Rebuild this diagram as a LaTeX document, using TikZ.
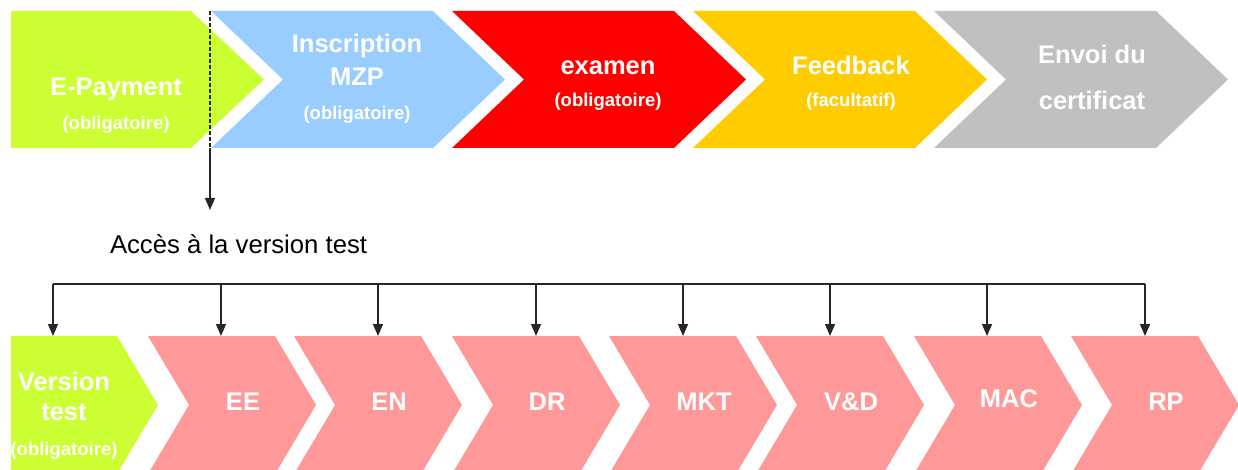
\documentclass[tikz,border=0pt]{standalone}
\usepackage{fontspec}
\setmainfont{Liberation Sans}
\usetikzlibrary{arrows.meta}

\definecolor{paygreen}{HTML}{CCFF33}
\definecolor{mzpblue}{HTML}{99CCFF}
\definecolor{examred}{HTML}{FF0000}
\definecolor{feedyellow}{HTML}{FFCC00}
\definecolor{certgrey}{HTML}{C0C0C0}
\definecolor{modpink}{HTML}{FF9999}

\begin{document}
\begin{tikzpicture}[
        x=1pt, y=-1pt,
        every node/.style = {inner sep=0pt,outer sep=0pt,anchor=base},
        title/.style = {text=white,font=\bfseries\fontsize{25.5}{30}\selectfont},
        note/.style = {text=white,font=\bfseries\fontsize{18.5}{22}\selectfont},
        wire/.style = {color=black!85,line width=1.3pt},
        link/.style = {wire,-{Triangle[width=10pt,length=12pt]}},
        ]
        \useasboundingbox (0,0) rectangle (1238,470);
        % top row
        \fill[paygreen] (11,11) -- (191,11) -- (264,79.5) -- (191,148) -- (11,148) -- cycle;
        \foreach \l/\c in {211/mzpblue,452/examred,693/feedyellow,934/certgrey}
            \fill[\c] (\l,11) -- ++(222,0) -- ++(72,68.5) -- ++(-72,68.5) -- ++(-222,0) -- ++(72,-68.5) -- cycle;
        \node[title] (pay-title) at (116,96) {E-Payment};
        \node[note] (pay-note) at (116,130) {(obligatoire)};
        \node[title] (mzp-title1) at (357,53) {Inscription};
        \node[title] (mzp-title2) at (357,86) {MZP};
        \node[note] (mzp-note) at (357,120) {(obligatoire)};
        \node[title] (exam-title) at (608,75) {examen};
        \node[note] (exam-note) at (608,107) {(obligatoire)};
        \node[title] (feed-title) at (851,75) {Feedback};
        \node[note] (feed-note) at (851,107) {(facultatif)};
        \node[title] (cert-title1) at (1092,64) {Envoi du};
        \node[title] (cert-title2) at (1092,110) {certificat};

        % test access
        \coordinate (dash-top) at (210,11);
        \coordinate (dash-end) at (210,148);
        \coordinate (access-tip) at (210,210);
        \draw[wire,dash pattern=on 4pt off 2pt] (dash-top) -- (dash-end);
        \draw[link] (dash-end) -- (access-tip);
        \node[font=\fontsize{25.7}{30}\selectfont,anchor=base west] (access) at (110,253) {Accès à la version test};

        % bottom row
        \fill[paygreen] (11,336) -- (117,336) -- (158,405) -- (117,474) -- (11,474) -- cycle;
        \node[title] (vt-title1) at (64,390) {Version};
        \node[title] (vt-title2) at (64,420) {test};
        \node[note] (vt-note) at (64,455) {(obligatoire)};
        \coordinate (vt-bus) at (53,284);
        \coordinate (vt-top) at (53,336);
        \coordinate (bus-end) at (1145,284);
        \draw[wire] (vt-bus) -- (bus-end);
        \draw[link] (vt-bus) -- (vt-top);
        \foreach \l/\nm/\txt/\ax/\by in {148/ee/EE/221/410,294/en/EN/378/410,452/dr/DR/536/410,
                609/mkt/MKT/683/410,756/vd/V\&D/830/410,914/mac/MAC/987/407,1071/rp/RP/1145/410}{
            \fill[modpink] (\l,336) -- ++(127,0) -- ++(41,69) -- ++(-41,69) -- ++(-127,0) -- ++(41,-69) -- cycle;
            \node[title] (\nm-title) at (\l+95,\by) {\txt};
            \coordinate (\nm-bus) at (\ax,284);
            \coordinate (\nm-top) at (\ax,336);
            \draw[link] (\nm-bus) -- (\nm-top);
        }
    \end{tikzpicture}
\end{document}
